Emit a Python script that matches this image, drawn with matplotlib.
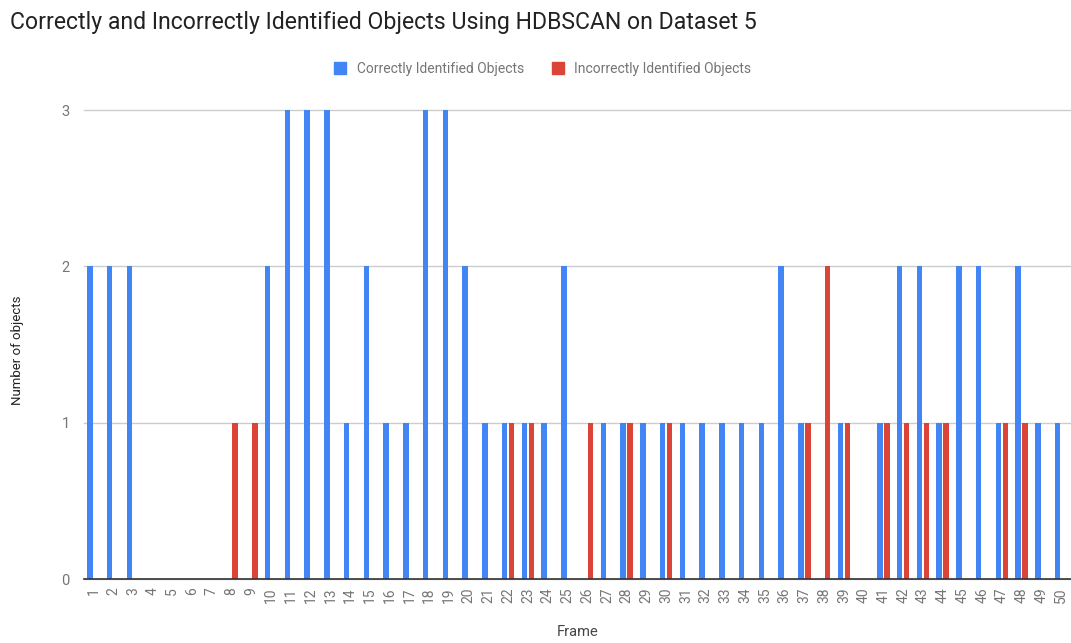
import matplotlib
matplotlib.use("Agg")
import matplotlib.pyplot as plt
from matplotlib.lines import Line2D
import numpy as np

frames = [str(i) for i in range(1, 51)]
correct = [2, 2, 2, 0, 0, 0, 0, 0, 0, 2,
           3, 3, 3, 1, 2, 1, 1, 3, 3, 2,
           1, 1, 1, 1, 2, 0, 1, 1, 1, 1,
           1, 1, 1, 1, 1, 2, 1, 0, 1, 0,
           1, 2, 2, 1, 2, 2, 1, 2, 1, 1]
incorrect = [0, 0, 0, 0, 0, 0, 0, 1, 1, 0,
             0, 0, 0, 0, 0, 0, 0, 0, 0, 0,
             0, 1, 1, 0, 0, 1, 0, 1, 0, 1,
             0, 0, 0, 0, 0, 0, 1, 2, 1, 0,
             1, 1, 1, 1, 0, 0, 1, 1, 0, 0]
series_names = ["Correctly Identified Objects", "Incorrectly Identified Objects"]
yticks = [0, 1, 2, 3]

plt.rcParams['font.family'] = ['Roboto', 'DejaVu Sans']
BLUE = "#4285F4"
RED = "#DB4437"

fig = plt.figure(figsize=(10.71, 6.43), dpi=100)
ax = fig.add_axes([0.078, 0.0995, 0.922, 0.7294])

x = np.arange(len(frames))
w = 0.28
off = 0.177
ax.bar(x - off, correct, width=w, color=BLUE, zorder=3)
ax.bar(x + off, incorrect, width=w, color=RED, zorder=3)

ax.set_xlim(-0.5, len(frames) - 0.5)
ax.set_ylim(0, 3.0)
ax.set_yticks(yticks)
ax.set_yticklabels([str(v) for v in yticks])
ax.set_xticks(x)
ax.set_xticklabels(frames, rotation=90)
ax.tick_params(axis='x', length=0, pad=6, labelsize=10, labelcolor="#757575")
ax.tick_params(axis='y', length=0, pad=10, labelsize=10.5, labelcolor="#757575")
ax.grid(axis='y', color="#cccccc", linewidth=1, zorder=0)
ax.set_axisbelow(True)
for s in ['top', 'right', 'left']:
    ax.spines[s].set_visible(False)
ax.spines['bottom'].set_color("#333333")
ax.spines['bottom'].set_linewidth(1.2)
ax.spines['bottom'].set_zorder(4)
for gl in ax.get_ygridlines():
    gl.set_clip_on(False)

fig.text(578 / 1071, 1 - 632 / 643, "Frame", fontsize=10.5, color="#444444", ha='center', va='center')
fig.text(18 / 1071, 1 - 350 / 643, "Number of objects", fontsize=9.5, color="#222222",
         ha='center', va='center', rotation=90)

fig.text(10 / 1071, 1 - 22 / 643, "Correctly and Incorrectly Identified Objects Using HDBSCAN on Dataset 5",
         fontsize=16.6, color="#222222", ha='left', va='center')

handles = [Line2D([], [], linestyle='none', marker='s', markersize=8, color=c) for c in (BLUE, RED)]
leg = fig.legend(handles, series_names, loc='center', bbox_to_anchor=(543 / 1071, 1 - 69 / 643), ncol=2,
                 frameon=False, fontsize=10, handlelength=0.8, handletextpad=0.8, columnspacing=2.0)
for t in leg.get_texts():
    t.set_color("#757575")

fig.savefig("out.png", dpi=100)
